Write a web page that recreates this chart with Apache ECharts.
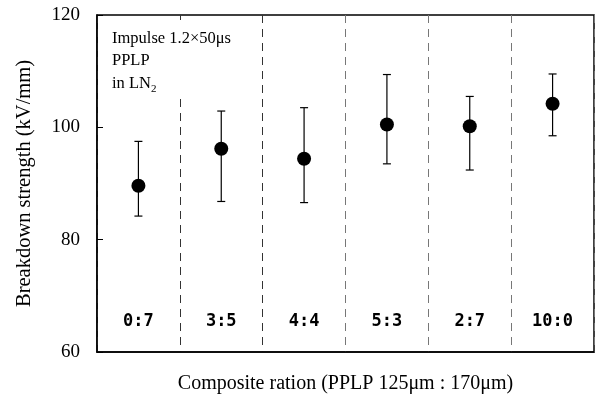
<!DOCTYPE html>
<html><head><meta charset="utf-8">
<script src="https://cdn.jsdelivr.net/npm/echarts@6/dist/echarts.min.js"></script>
<style>html,body{margin:0;padding:0;background:#fff}#c{width:595px;height:399px}</style>
</head><body><div id="c"></div>
<script>
var categories = ['0:7', '3:5', '4:4', '5:3', '2:7', '10:0'];
var meanValues = [89.6, 96.2, 94.4, 100.5, 100.2, 104.2];
var lowValues  = [84.2, 86.8, 86.6, 93.5, 92.4, 98.5];
var highValues = [97.5, 102.9, 103.5, 109.4, 105.5, 109.5];
var yTicks = [60, 80, 100, 120];

var errData = categories.map(function (c, i) { return [i, lowValues[i], highValues[i]]; });
var serif = '"Liberation Serif", "DejaVu Serif", serif';

var chart = echarts.init(document.getElementById('c'));
chart.setOption({
  animation: false,
  backgroundColor: '#fff',
  grid: { left: 97, right: 1, top: 15, bottom: 47, show: true, borderColor: '#000', borderWidth: 1.5, backgroundColor: 'transparent' },
  xAxis: {
    type: 'category', data: categories, boundaryGap: true,
    axisLine: { show: true, lineStyle: { color: '#000', width: 1.5 } },
    axisTick: { show: false },
    axisLabel: { inside: true, margin: 22, color: '#000', fontFamily: '"DejaVu Sans Mono", monospace', fontWeight: 'bold', fontSize: 17 },
    splitLine: { show: true, lineStyle: { color: ['#777', '#333', '#333', '#777', '#777', '#777', '#777'], width: 1, type: [8, 6] } },
    name: 'Composite ration (PPLP 125\u03bcm : 170\u03bcm)',
    nameLocation: 'middle', nameGap: 22,
    nameTextStyle: { color: '#000', fontFamily: serif, fontSize: 20 }
  },
  yAxis: {
    type: 'value', min: yTicks[0], max: yTicks[yTicks.length - 1], interval: 20,
    axisLine: { show: true, lineStyle: { color: '#000', width: 1.5 } },
    axisTick: { show: true, inside: true, length: 6, lineStyle: { color: '#000' } },
    axisLabel: { margin: 17, color: '#000', fontFamily: serif, fontSize: 19 },
    splitLine: { show: false },
    name: 'Breakdown strength (kV/mm)', nameLocation: 'middle', nameGap: 62,
    nameTextStyle: { color: '#000', fontFamily: serif, fontSize: 20.5 }
  },
  graphic: [{
    type: 'rect', left: 106, top: 20, shape: { width: 137, height: 74 }, style: { fill: '#fff' }, z: 100
  }, {
    type: 'text', left: 112, top: 27, z: 101,
    style: {
      text: 'Impulse 1.2\u00d750\u03bcs\nPPLP\nin LN{sub|2}',
      fontFamily: serif, fontSize: 16.5, lineHeight: 22.5, fill: '#000',
      rich: { sub: { fontFamily: serif, fontSize: 11, verticalAlign: 'bottom', padding: [6, 0, 0, 0] } }
    }
  }],
  series: [{
    type: 'custom', data: errData, z: 3,
    renderItem: function (params, api) {
      var lo = api.coord([api.value(0), api.value(1)]);
      var hi = api.coord([api.value(0), api.value(2)]);
      var w = 4;
      var st = { stroke: '#000', lineWidth: 1.2 };
      return { type: 'group', children: [
        { type: 'line', shape: { x1: lo[0], y1: lo[1], x2: hi[0], y2: hi[1] }, style: st },
        { type: 'line', shape: { x1: lo[0] - w, y1: lo[1], x2: lo[0] + w, y2: lo[1] }, style: st },
        { type: 'line', shape: { x1: hi[0] - w, y1: hi[1], x2: hi[0] + w, y2: hi[1] }, style: st }
      ] };
    }
  }, {
    type: 'scatter', data: meanValues, symbol: 'circle', symbolSize: 14, z: 4,
    itemStyle: { color: '#000', opacity: 1 }
  }]
});
</script></body></html>
